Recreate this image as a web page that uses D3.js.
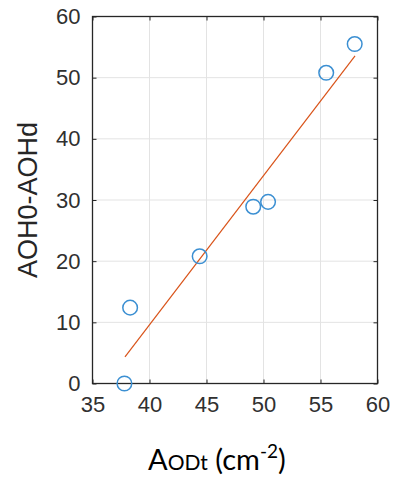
<!DOCTYPE html>
<html><head><meta charset="utf-8">
<script src="https://cdn.jsdelivr.net/npm/d3@7"></script>
<style>body{margin:0;background:#fff}</style>
</head><body>
<script>
const xData = [37.8, 38.3, 44.4, 49.1, 50.4, 55.5, 58.0];
const yData = [0.0, 12.4, 20.8, 28.9, 29.7, 50.8, 55.5];
const fitX = [37.85, 58.03];
const fitY = [4.35, 53.57];
const xTicks = [35, 40, 45, 50, 55, 60];
const yTicks = [0, 10, 20, 30, 40, 50, 60];

const W = 404, H = 487;
const m = {left: 92.5, right: 404 - 377.5, top: 16.5, bottom: 487 - 383.5};
const svg = d3.select("body").append("svg").attr("width", W).attr("height", H);
const x = d3.scaleLinear().domain([35, 60]).range([m.left, W - m.right]);
const y = d3.scaleLinear().domain([0, 60]).range([H - m.bottom, m.top]);

const g = svg.append("g");
// grid
g.selectAll(".gx").data(xTicks).join("line")
  .attr("x1", d => x(d)).attr("x2", d => x(d)).attr("y1", y(0)).attr("y2", y(60))
  .attr("stroke", "#e3e3e3").attr("stroke-width", 1);
g.selectAll(".gy").data(yTicks).join("line")
  .attr("y1", d => y(d)).attr("y2", d => y(d)).attr("x1", x(35)).attr("x2", x(60))
  .attr("stroke", "#e3e3e3").attr("stroke-width", 1);

const tickLen = 4;
const axStyle = sel => {
  sel.select(".domain").remove();
  sel.selectAll(".tick line").attr("stroke", "#262626");
  sel.selectAll(".tick text").attr("fill", "#303030")
    .style("font-family", "Liberation Sans, Arial, sans-serif").style("font-size", "22px");
};
svg.append("g").attr("transform", `translate(0,${y(0)})`)
  .call(d3.axisBottom(x).tickValues(xTicks).tickSizeInner(-tickLen).tickPadding(13))
  .call(axStyle);
svg.append("g").attr("transform", `translate(${x(35)},0)`)
  .call(d3.axisLeft(y).tickValues(yTicks).tickSizeInner(-tickLen).tickPadding(12))
  .call(axStyle);
svg.append("g").attr("transform", `translate(0,${y(60)})`)
  .call(d3.axisTop(x).tickValues(xTicks).tickSizeInner(-tickLen).tickFormat(""))
  .call(axStyle);
svg.append("g").attr("transform", `translate(${x(60)},0)`)
  .call(d3.axisRight(y).tickValues(yTicks).tickSizeInner(-tickLen).tickFormat(""))
  .call(axStyle);

// box
svg.append("rect").attr("x", x(35)).attr("y", y(60))
  .attr("width", x(60) - x(35)).attr("height", y(0) - y(60))
  .attr("fill", "none").attr("stroke", "#262626").attr("stroke-width", 1.3);

// fit line
svg.append("line")
  .attr("x1", x(fitX[0])).attr("y1", y(fitY[0]))
  .attr("x2", x(fitX[1])).attr("y2", y(fitY[1]))
  .attr("stroke", "#D95319").attr("stroke-width", 1.2);

// points
svg.selectAll(".pt").data(xData.map((d, i) => [d, yData[i]])).join("circle")
  .attr("cx", d => x(d[0])).attr("cy", d => y(d[1])).attr("r", 7.3)
  .attr("fill", "none").attr("stroke", "#3b8fd2").attr("stroke-width", 1.5);

// y label
svg.append("text")
  .attr("transform", `translate(${36.5},${y(30)}) rotate(-90)`)
  .attr("text-anchor", "middle")
  .style("font-family", "Liberation Sans, Arial, sans-serif").style("font-size", "27px")
  .attr("fill", "#262626").text("AOH0-AOHd");

// x label
const xl = svg.append("text").attr("x", 148).attr("y", 470)
  .attr("text-anchor", "start")
  .style("font-family", "Lato, sans-serif").attr("fill", "#000");
xl.append("tspan").style("font-size", "29px").text("A");
xl.append("tspan").style("font-size", "21px").text("ODt");
xl.append("tspan").style("font-size", "29px").text(" (cm");
xl.append("tspan").style("font-size", "19px").attr("dy", -12).text("-2");
xl.append("tspan").style("font-size", "29px").attr("dy", 12).text(")");
</script>
</body></html>
